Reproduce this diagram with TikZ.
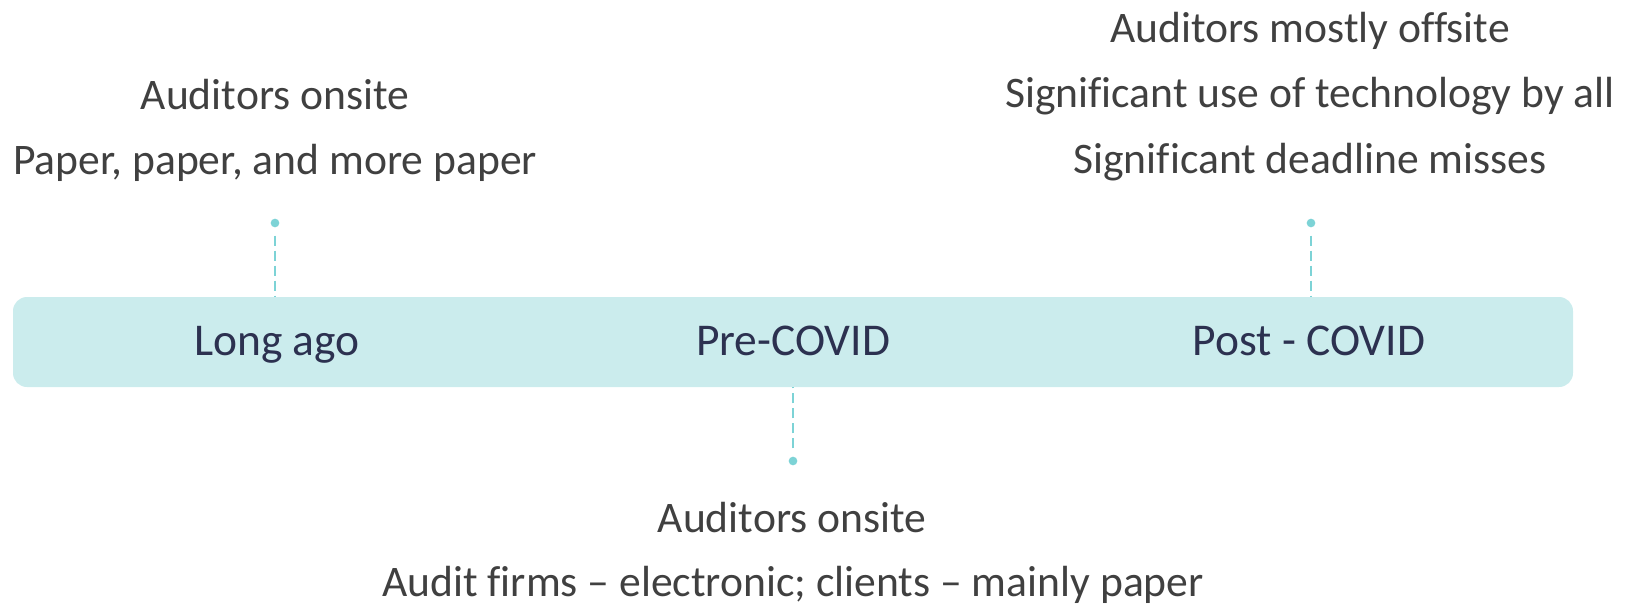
\documentclass[tikz,border=0pt]{standalone}
\usepackage{fontspec}
\setmainfont[Ligatures=NoCommon]{Carlito}
\usetikzlibrary{calc}
\definecolor{barfill}{RGB}{203,236,237}
\definecolor{pinteal}{RGB}{125,211,214}
\definecolor{eranavy}{RGB}{44,49,80}
\definecolor{notegray}{RGB}{64,64,64}
\tikzset{
  era/.style={font=\fontsize{34.1}{40}\selectfont, text=eranavy, anchor=base, inner sep=0pt},
  note/.style={font=\fontsize{32.7}{40}\selectfont, text=notegray, anchor=base, inner sep=0pt},
  pin/.style={circle, fill=pinteal, inner sep=0pt, minimum size=6.5pt},
  link/.style={draw=pinteal, line width=1.7pt, dash pattern=on 7.5pt off 3.75pt}
}

\begin{document}
\begin{tikzpicture}[x=0.75pt, y=-0.75pt]
  \useasboundingbox (0,0) rectangle (1631,610);

  % timeline bar
  \node[fill=barfill, rounded corners=10.5pt, minimum width=1170pt, minimum height=67.5pt, inner sep=0pt] (bar) at (793,342) {};
  \node[era] (longago) at (277,355) {Long ago};
  \node[era] (precovid) at (793,355) {Pre-COVID};
  \node[era] (postcovid) at (1309,355) {Post - COVID};

  % pins and dashed stems
  \node[pin] (pinA) at (275,223) {};
  \node[pin] (pinB) at (793,461) {};
  \node[pin] (pinC) at (1311,223) {};
  \draw[link, shorten <=6pt] (pinA) -- (pinA |- bar.north);
  \draw[link, shorten <=6pt] (pinC) -- (pinC |- bar.north);
  \draw[link, shorten <=6pt] (pinB) -- (pinB |- bar.south);

  % notes
  \node[note] (noteA1) at (275,109) {Auditors onsite};
  \node[note] (noteA2) at (275,174) {Paper, paper, and more paper};
  \node[note] (noteB1) at (792,532) {Auditors onsite};
  \node[note] (noteB2) at (793,596) {Audit firms – electronic; clients – mainly paper};
  \node[note] (noteC1) at (1310,43) {Auditors mostly offsite};
  \node[note] (noteC2) at (1310,108) {Significant use of technology by all};
  \node[note] (noteC3) at (1310,173) {Significant deadline misses};
\end{tikzpicture}
\end{document}
